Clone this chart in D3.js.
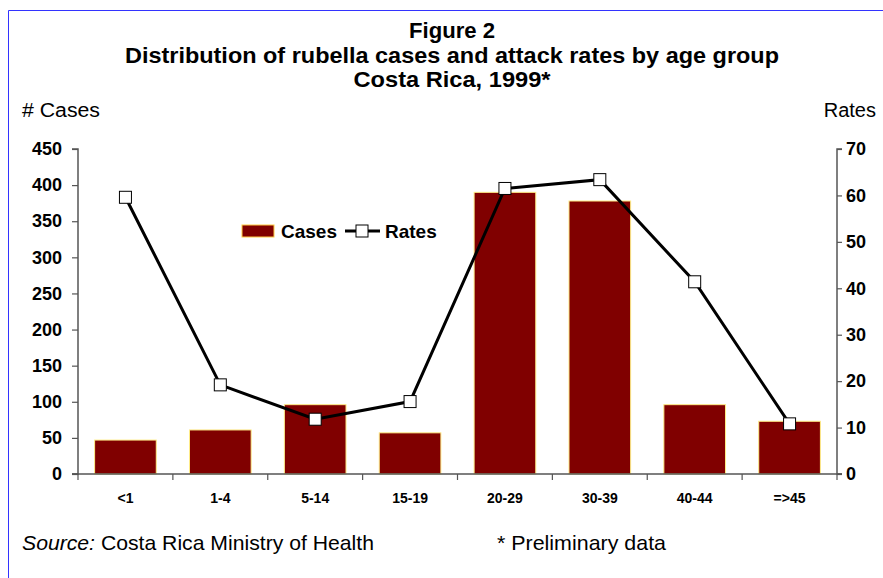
<!DOCTYPE html>
<html>
<head>
<meta charset="utf-8">
<title>Rubella Costa Rica 1999</title>
<style type="text/css">
	html, body {margin:0px; padding:0px; background:#fff;}
	svg {display:block; font-family: "Liberation Sans", Arial, sans-serif;}
</style>
</head>
<body>
<svg></svg>
<script src="https://d3js.org/d3.v7.min.js"></script>
<script type="text/javascript">

	// data
	const ageGroups = ['<1', '1-4', '5-14', '15-19', '20-29', '30-39', '40-44', '=>45'];
	const cases = [47, 61, 96, 57, 390, 378, 96, 73];
	const rates = [59.6, 19.2, 11.8, 15.6, 61.5, 63.4, 41.4, 10.8];
	const caseTicks = [0, 50, 100, 150, 200, 250, 300, 350, 400, 450];
	const rateTicks = [0, 10, 20, 30, 40, 50, 60, 70];

	const W = 883, H = 578;
	const plotL = 78, plotR = 837, plotT = 149, plotB = 474;

	const svg = d3.select('svg').attr('width', W).attr('height', H);

	// frame (blue border top + left)
	svg.append('path')
		.attr('d', 'M8.5,' + H + 'V10.5H' + W)
		.attr('fill', 'none').attr('stroke', '#3333ff').attr('stroke-width', 1);

	// titles  (widths measured on the reference)
	const titles = ['Figure 2', 'Distribution of rubella cases and attack rates by age group', 'Costa Rica, 1999*'];
	const titleWidths = [86, 654, 197];
	svg.selectAll('.title').data(titles).enter().append('text')
		.attr('class', 'title')
		.attr('x', 452).attr('y', function(d, i) { return 38 + i * 24.5; })
		.attr('text-anchor', 'middle')
		.attr('font-weight', 'bold').attr('font-size', 22)
		.attr('textLength', function(d, i) { return titleWidths[i]; })
		.attr('lengthAdjust', 'spacingAndGlyphs')
		.text(function(d) { return d; });

	svg.append('text').attr('x', 22).attr('y', 117).attr('font-size', 20)
		.attr('textLength', 78).attr('lengthAdjust', 'spacingAndGlyphs').text('# Cases');
	svg.append('text').attr('x', 876).attr('y', 117).attr('font-size', 20)
		.attr('text-anchor', 'end').text('Rates');

	const x = d3.scaleBand().domain(ageGroups).range([plotL, plotR]).paddingInner(0.35).paddingOuter(0.175);
	const yCases = d3.scaleLinear().domain([0, 450]).range([plotB, plotT]);
	const yRates = d3.scaleLinear().domain([0, 70]).range([plotB, plotT]);

	// bars
	svg.append('g').selectAll('rect').data(cases).enter().append('rect')
		.attr('x', function(d, i) { return x(ageGroups[i]); })
		.attr('y', function(d) { return yCases(d); })
		.attr('width', x.bandwidth())
		.attr('height', function(d) { return plotB - yCases(d); })
		.attr('fill', '#800000')
		.attr('stroke', '#ffee88').attr('stroke-width', 1);

	// axes
	const leftAxis = svg.append('g').attr('transform', 'translate(' + plotL + ',0)')
		.call(d3.axisLeft(yCases).tickValues(caseTicks).tickSize(6).tickPadding(10));
	const rightAxis = svg.append('g').attr('transform', 'translate(' + plotR + ',0)')
		.call(d3.axisRight(yRates).tickValues(rateTicks).tickSize(5).tickPadding(4));
	[leftAxis, rightAxis].forEach(function(a) {
		a.select('.domain').attr('stroke', '#555').attr('stroke-width', 1.5);
		a.selectAll('.tick line').attr('stroke', '#555').attr('stroke-width', 1.2);
		a.selectAll('text').attr('font-size', 18).attr('font-weight', 'bold')
			.attr('fill', '#000').attr('font-family', '"Liberation Sans", Arial, sans-serif');
	});
	leftAxis.select('.domain').attr('d', 'M-6,' + plotT + 'H0V' + plotB + 'H-6');
	rightAxis.select('.domain').attr('d', 'M5,' + plotT + 'H0V' + plotB + 'H5');

	// x axis with ticks between categories
	const xg = svg.append('g');
	xg.append('line').attr('x1', plotL - 6).attr('x2', plotR + 5)
		.attr('y1', plotB).attr('y2', plotB).attr('stroke', '#555').attr('stroke-width', 1.5);
	const step = (plotR - plotL) / ageGroups.length;
	d3.range(ageGroups.length + 1).forEach(function(i) {
		xg.append('line').attr('x1', plotL + i * step).attr('x2', plotL + i * step)
			.attr('y1', plotB).attr('y2', plotB + 6).attr('stroke', '#555').attr('stroke-width', 1.2);
	});
	xg.selectAll('text').data(ageGroups).enter().append('text')
		.attr('x', function(d) { return x(d) + x.bandwidth() / 2; })
		.attr('y', 503)
		.attr('text-anchor', 'middle').attr('font-size', 14).attr('font-weight', 'bold')
		.text(function(d) { return d; });

	// rates line
	const line = d3.line()
		.x(function(d, i) { return x(ageGroups[i]) + x.bandwidth() / 2; })
		.y(function(d) { return yRates(d); });
	svg.append('path').datum(rates).attr('d', line)
		.attr('fill', 'none').attr('stroke', '#000').attr('stroke-width', 3);
	svg.append('g').selectAll('rect').data(rates).enter().append('rect')
		.attr('x', function(d, i) { return x(ageGroups[i]) + x.bandwidth() / 2 - 6; })
		.attr('y', function(d) { return yRates(d) - 6; })
		.attr('width', 12).attr('height', 12)
		.attr('fill', '#fff').attr('stroke', '#000').attr('stroke-width', 1);

	// legend
	const lg = svg.append('g');
	lg.append('rect').attr('x', 242).attr('y', 225).attr('width', 32).attr('height', 12)
		.attr('fill', '#800000').attr('stroke', '#ffcc44').attr('stroke-width', 1);
	lg.append('text').attr('x', 281).attr('y', 238).attr('font-size', 19).attr('font-weight', 'bold').text('Cases');
	lg.append('line').attr('x1', 345).attr('x2', 380).attr('y1', 231).attr('y2', 231)
		.attr('stroke', '#000').attr('stroke-width', 3);
	lg.append('rect').attr('x', 356).attr('y', 225).attr('width', 12).attr('height', 12)
		.attr('fill', '#fff').attr('stroke', '#000').attr('stroke-width', 1);
	lg.append('text').attr('x', 385).attr('y', 238).attr('font-size', 19).attr('font-weight', 'bold').text('Rates');

	// footer
	const src = svg.append('text').attr('x', 22).attr('y', 550).attr('font-size', 21)
		.attr('textLength', 352).attr('lengthAdjust', 'spacingAndGlyphs');
	src.append('tspan').attr('font-style', 'italic').text('Source:');
	src.append('tspan').text(' Costa Rica Ministry of Health');
	svg.append('text').attr('x', 497).attr('y', 550).attr('font-size', 21)
		.attr('textLength', 169).attr('lengthAdjust', 'spacingAndGlyphs').text('* Preliminary data');

</script>
</body>
</html>
